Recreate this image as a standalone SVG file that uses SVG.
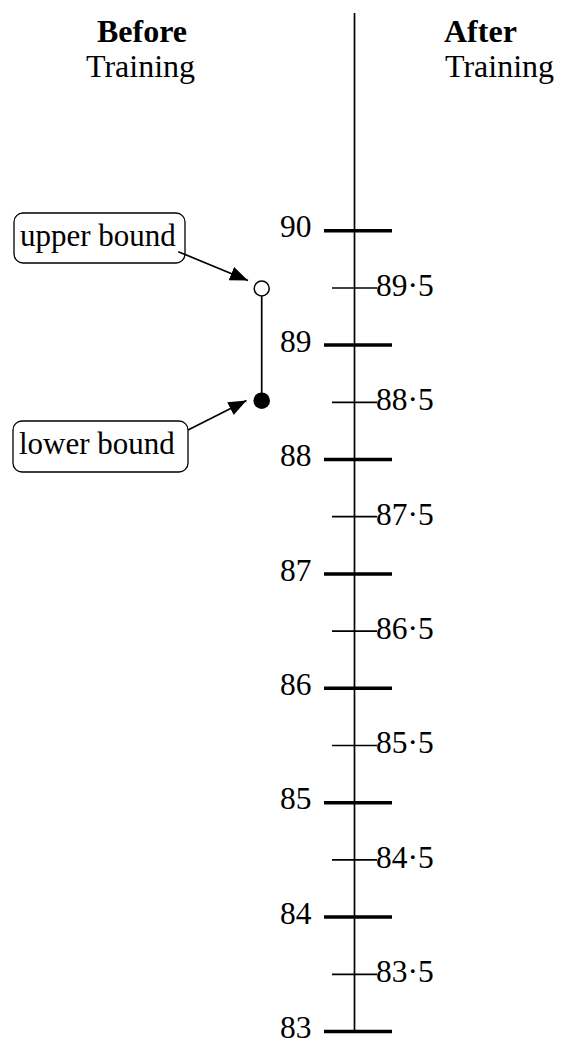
<svg xmlns="http://www.w3.org/2000/svg" width="568" height="1043" viewBox="0 0 568 1043">
<style>
text{font-family:"Liberation Serif","Times New Roman",serif;fill:#000}
.h{font-size:32px}
.b{font-weight:bold}
.lab{font-size:31px}
.maj{font-size:31.5px;text-anchor:end}
.min{font-size:31.5px}
.tk{stroke:#000;stroke-width:3.5}
.mt{stroke:#000;stroke-width:1.7}
.box{fill:#fff;stroke:#000;stroke-width:1.3}
.ln{stroke:#000;stroke-width:1.7;fill:none}
</style>
<defs>
<marker id="ah" viewBox="0 0 10 10" refX="10" refY="5" markerWidth="18" markerHeight="18" markerUnits="userSpaceOnUse" orient="auto">
<path d="M0,1 L10,5 L0,9 z" fill="#000"/>
</marker>
</defs>
<g id="headers">
<text class="h b" x="97" y="42">Before</text>
<text class="h" x="86" y="77">Training</text>
<text class="h b" x="444" y="42">After</text>
<text class="h" x="445" y="77">Training</text>
</g>
<g id="axis">
<line class="mt" x1="354.5" y1="13" x2="354.5" y2="1032"/>
<g id="major-ticks">
<line class="tk" x1="324" y1="230.7" x2="392" y2="230.7"/>
<line class="tk" x1="324" y1="345.1" x2="392" y2="345.1"/>
<line class="tk" x1="324" y1="459.5" x2="392" y2="459.5"/>
<line class="tk" x1="324" y1="573.9" x2="392" y2="573.9"/>
<line class="tk" x1="324" y1="688.3" x2="392" y2="688.3"/>
<line class="tk" x1="324" y1="802.7" x2="392" y2="802.7"/>
<line class="tk" x1="324" y1="917.1" x2="392" y2="917.1"/>
<line class="tk" x1="324" y1="1031.5" x2="392" y2="1031.5"/>
</g>
<g id="minor-ticks">
<line class="mt" x1="332" y1="288" x2="377" y2="288"/>
<line class="mt" x1="332" y1="402.3" x2="377" y2="402.3"/>
<line class="mt" x1="332" y1="516.7" x2="377" y2="516.7"/>
<line class="mt" x1="332" y1="631.1" x2="377" y2="631.1"/>
<line class="mt" x1="332" y1="745.5" x2="377" y2="745.5"/>
<line class="mt" x1="332" y1="859.9" x2="377" y2="859.9"/>
<line class="mt" x1="332" y1="974.3" x2="377" y2="974.3"/>
</g>
<g id="major-labels">
<text class="maj" x="311.5" y="237">90</text>
<text class="maj" x="311.5" y="352">89</text>
<text class="maj" x="311.5" y="466">88</text>
<text class="maj" x="311.5" y="581">87</text>
<text class="maj" x="311.5" y="695">86</text>
<text class="maj" x="311.5" y="809">85</text>
<text class="maj" x="311.5" y="924">84</text>
<text class="maj" x="311.5" y="1038">83</text>
</g>
<g id="minor-labels">
<text class="min" x="376" y="296">89·5</text>
<text class="min" x="376" y="410">88·5</text>
<text class="min" x="376" y="525">87·5</text>
<text class="min" x="376" y="639">86·5</text>
<text class="min" x="376" y="753">85·5</text>
<text class="min" x="376" y="868">84·5</text>
<text class="min" x="376" y="982">83·5</text>
</g>
</g>
<g id="interval">
<line class="ln" x1="261.7" y1="296" x2="261.7" y2="393"/>
<circle id="upper-point" cx="261.7" cy="288.5" r="7.5" fill="#fff" stroke="#000" stroke-width="1.5"/>
<circle id="lower-point" cx="261.7" cy="400.7" r="8.3" fill="#000"/>
</g>
<g id="upper-bound">
<rect class="box" x="14" y="213" width="171" height="50" rx="9"/>
<text class="lab" x="20" y="246">upper bound</text>
</g>
<g id="lower-bound">
<rect class="box" x="13" y="421" width="175" height="51" rx="9"/>
<text class="lab" x="19" y="454">lower bound</text>
</g>
<g id="connectors">
<line class="ln" x1="178.3" y1="251.7" x2="248" y2="280.5" marker-end="url(#ah)"/>
<line class="ln" x1="188" y1="430" x2="246.5" y2="400.5" marker-end="url(#ah)"/>
</g>
</svg>
